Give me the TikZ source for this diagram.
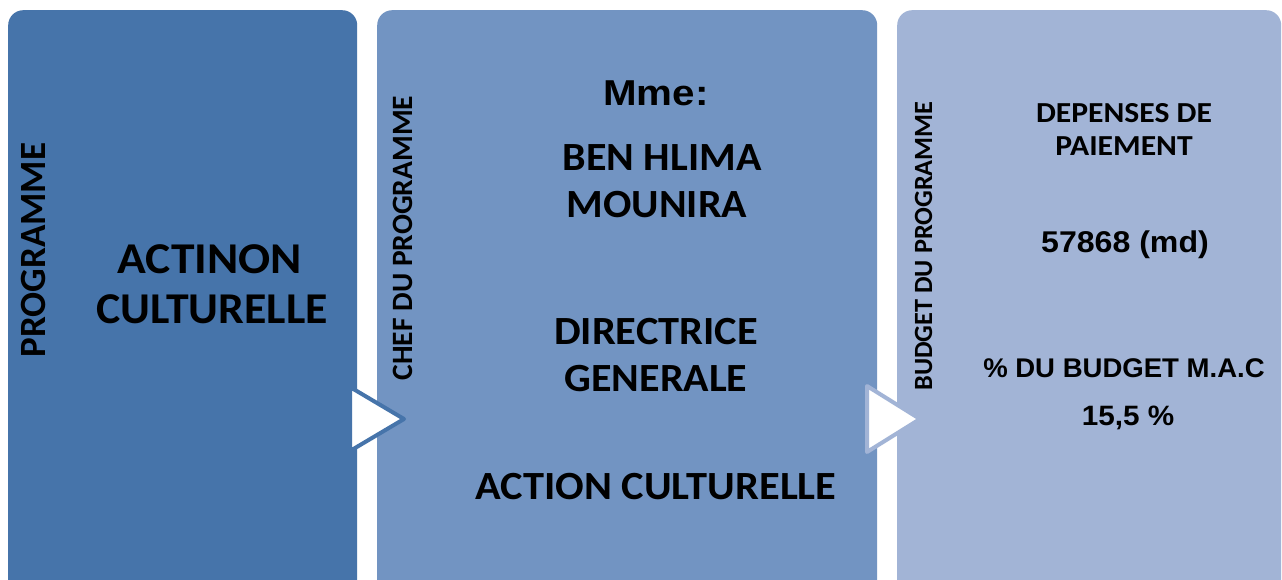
\documentclass[tikz,border=0pt]{standalone}
\usepackage{fontspec}
\usepackage{graphicx}
\setmainfont{Carlito}
\newfontfamily\arialf{Liberation Sans}
\newcommand\sx[2]{\scalebox{#1}[1]{#2}}
\definecolor{cA}{HTML}{4674AA}
\definecolor{cB}{HTML}{7294C2}
\definecolor{cC}{HTML}{A2B4D6}
\begin{document}
\begin{tikzpicture}[x=1pt,y=-1pt,
  box/.style={rounded corners=15pt, inner sep=0pt, anchor=north west},
  txt/.style={anchor=base, inner sep=0pt, text=black},
  vlab/.style={txt, rotate=90},
  tri/.style={fill=white, line width=4pt, line join=round}]
\clip (0,0) rectangle (1282,579);
\fill[white] (0,0) rectangle (1282,579);
% boxes
\node[box, fill=cA, minimum width=349pt, minimum height=600pt] (b1) at (8,10) {};
\node[box, fill=cB, minimum width=500pt, minimum height=600pt] (b2) at (377,10) {};
\node[box, fill=cC, minimum width=384pt, minimum height=600pt] (b3) at (897,10) {};
% arrows
\coordinate (t1a) at (350,387); \coordinate (t1b) at (404,419); \coordinate (t1c) at (350,451);
\draw[tri, draw=cA] (t1a) -- (t1b) -- (t1c) -- cycle;
\coordinate (t2a) at (867,386); \coordinate (t2b) at (920,419); \coordinate (t2c) at (867,452);
\draw[tri, draw=cC] (t2a) -- (t2b) -- (t2c) -- cycle;
% box 1
\node[vlab, font=\fontsize{37}{40}\selectfont\bfseries] (l1) at (45,250) {PROGRAMME};
\node[txt, font=\fontsize{44}{50}\selectfont\bfseries] (p1) at (210,273) {\sx{1.08}{ACTINON}};
\node[txt, font=\fontsize{44}{50}\selectfont\bfseries] (p2) at (212,323) {\sx{1.04}{CULTURELLE}};
% box 2
\node[vlab, font=\fontsize{29.5}{32}\selectfont\bfseries] (l2) at (412,238) {CHEF DU PROGRAMME};
\node[txt, font=\fontsize{36}{40}\selectfont\arialf\bfseries] (m0) at (656,105) {\sx{1.12}{Mme:}};
\node[txt, font=\fontsize{40}{46}\selectfont\bfseries] (m1) at (662,170) {\sx{1.05}{BEN HLIMA}};
\node[txt, font=\fontsize{40}{46}\selectfont\bfseries] (m2) at (657,217) {\sx{1.05}{MOUNIRA}};
\node[txt, font=\fontsize{40}{46}\selectfont\bfseries] (m3) at (656,344) {\sx{1.06}{DIRECTRICE}};
\node[txt, font=\fontsize{40}{46}\selectfont\bfseries] (m4) at (656,391) {\sx{1.05}{GENERALE}};
\node[txt, font=\fontsize{40}{46}\selectfont\bfseries] (m5) at (656,499) {\sx{1.06}{ACTION CULTURELLE}};
% box 3
\node[vlab, font=\fontsize{26.3}{30}\selectfont\bfseries] (l3) at (932,246) {BUDGET DU PROGRAMME};
\node[txt, font=\fontsize{29}{32}\selectfont\bfseries] (d1) at (1124,122) {\sx{1.09}{DEPENSES DE}};
\node[txt, font=\fontsize{29}{32}\selectfont\bfseries] (d2) at (1124,155) {\sx{1.09}{PAIEMENT}};
\node[txt, font=\fontsize{30}{34}\selectfont\arialf\bfseries] (d3) at (1125,252) {\sx{1.07}{57868 (md)}};
\node[txt, font=\fontsize{27}{31}\selectfont\arialf\bfseries] (d4) at (1124,377) {\sx{1.02}{\% DU BUDGET M.A.C}};
\node[txt, font=\fontsize{28}{32}\selectfont\arialf\bfseries] (d5) at (1128,425) {\sx{1.06}{15,5 \%}};
\end{tikzpicture}
\end{document}
